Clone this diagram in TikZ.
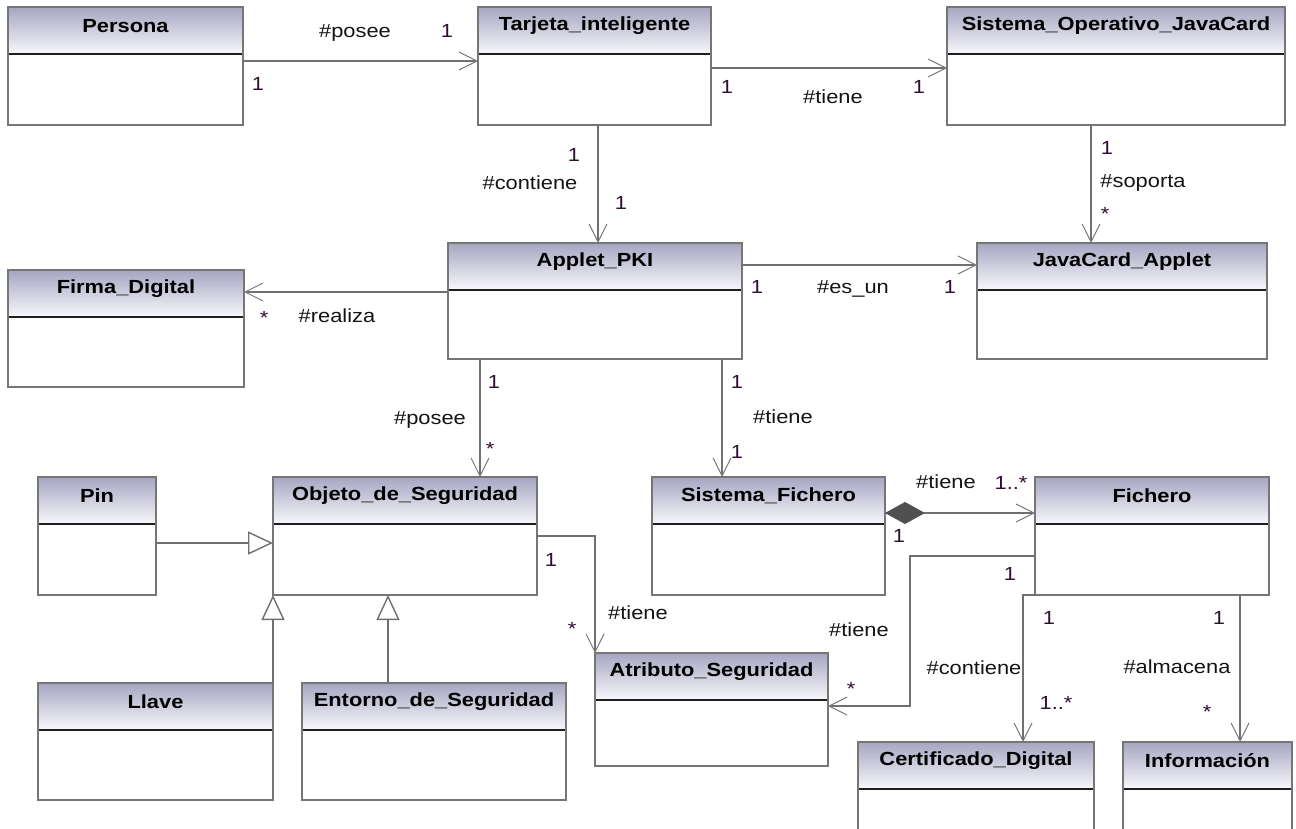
\documentclass[tikz,border=0pt]{standalone}
\usepackage{fontspec}
\setmainfont{Liberation Sans}[FakeStretch=1.15]
\usetikzlibrary{arrows.meta,fit}

\definecolor{hdrtop}{RGB}{166,166,194}
\definecolor{hdrbot}{RGB}{248,248,252}
\definecolor{boxline}{RGB}{118,118,118}
\definecolor{sepcol}{RGB}{30,30,30}
\definecolor{conncol}{RGB}{112,112,112}
\definecolor{tipcol}{RGB}{120,120,120}
\definecolor{diacol}{RGB}{80,80,80}
\definecolor{labcol}{RGB}{20,20,24}
\definecolor{multcol}{RGB}{48,16,48}

\tikzset{
  clsbox/.style={draw=boxline, line width=1.5pt, inner sep=0pt, outer sep=0pt},
  sepline/.style={draw=sepcol, line width=1.6pt},
  clstitle/.style={font=\fontsize{19}{22}\selectfont\bfseries, text=black, inner sep=0pt},
  lbl/.style={font=\fontsize{19}{22}\selectfont, text=labcol, inner sep=0pt},
  mult/.style={font=\fontsize{19}{22}\selectfont, text=multcol, inner sep=0pt},
  assoc/.style={draw=conncol, line width=1.4pt,
    -{Straight Barb[length=18pt, width=18pt, line width=1pt, color=tipcol]}},
  compo/.style={draw=conncol, line width=1.4pt,
    {Diamond[length=40pt, width=22pt, fill=diacol, color=diacol]}-{Straight Barb[length=18pt, width=18pt, line width=1pt, color=tipcol]}},
  generalize/.style={draw=conncol, line width=1.4pt,
    -{Triangle[open, length=25pt, width=23pt, line width=1.4pt, fill=white]}},
}

% class box: name, left, top, right, bottom, title
\newcommand\umlclass[6]{%
  \fill[white] (#2,#3) rectangle (#4,#5);
  \shade[top color=hdrtop, bottom color=hdrbot] (#2,#3) rectangle (#4,#3+47);
  \draw[sepline] (#2,#3+47) -- (#4,#3+47);
  \node[clsbox, fit={(#2,#3) (#4,#5)}] (#1) {};
  \node[clstitle] (#1-title) at ({(#2+#4)/2},#3+19) {#6};
}

\begin{document}
\begin{tikzpicture}[x=1pt, y=-1pt]
\clip (0,0) rectangle (1296,829);
\fill[white] (0,0) rectangle (1296,829);

% ---- classes ----
\umlclass{persona}{8}{7}{243}{125}{Persona}
\umlclass{tarjeta}{478}{7}{711}{125}{Tarjeta\_inteligente}
\umlclass{so}{947}{7}{1285}{125}{Sistema\_Operativo\_JavaCard}
\umlclass{applet}{448}{243}{742}{359}{Applet\_PKI}
\umlclass{jcapplet}{977}{243}{1267}{359}{JavaCard\_Applet}
\umlclass{firma}{8}{270}{244}{387}{Firma\_Digital}
\umlclass{pin}{38}{477}{156}{595}{Pin}
\umlclass{objeto}{273}{477}{537}{595}{Objeto\_de\_Seguridad}
\umlclass{sisfich}{652}{477}{885}{595}{Sistema\_Fichero}
\umlclass{fichero}{1035}{477}{1269}{595}{Fichero}
\umlclass{llave}{38}{683}{273}{800}{Llave}
\umlclass{entorno}{302}{683}{566}{800}{Entorno\_de\_Seguridad}
\umlclass{atributo}{595}{653}{828}{766}{Atributo\_Seguridad}
\umlclass{certif}{858}{742}{1094}{860}{Certificado\_Digital}
\umlclass{info}{1123}{742}{1292}{860}{Información}

% ---- associations ----
\draw[assoc] ([yshift=-54pt]persona.north east) -- ([yshift=-54pt]tarjeta.north west);
\draw[assoc] ([yshift=-61pt]tarjeta.north east) -- ([yshift=-61pt]so.north west);
\draw[assoc] ([xshift=120pt]tarjeta.south west) -- ([xshift=150pt]applet.north west);
\draw[assoc] ([xshift=144pt]so.south west) -- ([xshift=114pt]jcapplet.north west);
\draw[assoc] ([yshift=-22pt]applet.north east) -- ([yshift=-22pt]jcapplet.north west);
\draw[assoc] ([yshift=-49pt]applet.north west) -- ([yshift=-22pt]firma.north east);
\draw[assoc] ([xshift=32pt]applet.south west) -- ([xshift=207pt]objeto.north west);
\draw[assoc] ([xshift=274pt]applet.south west) -- ([xshift=70pt]sisfich.north west);
\draw[compo] ([yshift=-36pt]sisfich.north east) -- ([yshift=-36pt]fichero.north west);
\draw[assoc] ([yshift=-59pt]objeto.north east) -| (atributo.north west);
\coordinate (fabend) at (910,706);
\draw[assoc] ([yshift=-79pt]fichero.north west) -| (fabend) -- ([yshift=-53pt]atributo.north east);
\draw[assoc] (fichero.south west) -| ([xshift=165pt]certif.north west);
\draw[assoc] ([xshift=205pt]fichero.south west) -- ([xshift=117pt]info.north west);

% ---- generalizations ----
\draw[generalize] ([yshift=-66pt]pin.north east) -- ([yshift=-66pt]objeto.north west);
\draw[generalize] (llave.north east) -- (objeto.south west);
\draw[generalize] ([xshift=86pt]entorno.north west) -- ([xshift=115pt]objeto.south west);

% ---- role names and multiplicities ----
\node[lbl]  (r1)  at (355,33)  {\#posee};
\node[mult] (m1a) at (447,31)  {1};
\node[mult] (m1b) at (258,84)  {1};

\node[mult] (m2a) at (727,87)  {1};
\node[lbl]  (r2)  at (833,97)  {\#tiene};
\node[mult] (m2b) at (919,87)  {1};

\node[mult] (m3a) at (574,155) {1};
\node[lbl]  (r3)  at (530,183) {\#contiene};
\node[mult] (m3b) at (621,203) {1};

\node[mult] (m4a) at (1107,148) {1};
\node[lbl]  (r4)  at (1143,183) {\#soporta};
\node[mult] (m4b) at (1105,214) {*};

\node[mult] (m5a) at (757,287) {1};
\node[lbl]  (r5)  at (853,289) {\#es\_un};
\node[mult] (m5b) at (950,287) {1};

\node[mult] (m6)  at (264,318) {*};
\node[lbl]  (r6)  at (337,316) {\#realiza};

\node[mult] (m7a) at (494,382) {1};
\node[lbl]  (r7)  at (430,420) {\#posee};
\node[mult] (m7b) at (490,449) {*};

\node[mult] (m8a) at (737,382) {1};
\node[lbl]  (r8)  at (783,417) {\#tiene};
\node[mult] (m8b) at (737,452) {1};

\node[lbl]  (r9)  at (946,482) {\#tiene};
\node[mult] (m9a) at (1011,483) {1..*};
\node[mult] (m9b) at (899,536) {1};

\node[mult] (m10a) at (551,560) {1};
\node[lbl]  (r10)  at (638,613) {\#tiene};
\node[mult] (m10b) at (572,629) {*};

\node[mult] (m11a) at (1010,574) {1};
\node[lbl]  (r11)  at (859,630) {\#tiene};
\node[mult] (m11b) at (851,689) {*};

\node[mult] (m12a) at (1049,618) {1};
\node[lbl]  (r12)  at (974,668) {\#contiene};
\node[mult] (m12b) at (1056,703) {1..*};

\node[mult] (m13a) at (1219,618) {1};
\node[lbl]  (r13)  at (1177,667) {\#almacena};
\node[mult] (m13b) at (1207,712) {*};
\end{tikzpicture}
\end{document}
